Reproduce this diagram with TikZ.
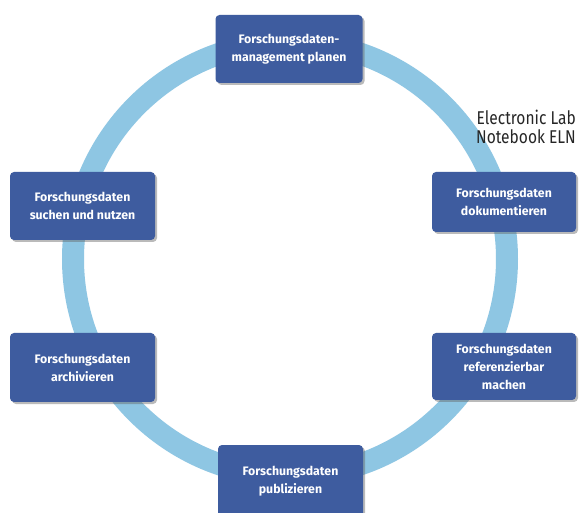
\documentclass[tikz,border=0pt]{standalone}
\usepackage{fontspec}
\setmainfont{Fira Sans}
\newfontfamily\elnfont{Fira Sans}[FakeStretch=0.84]
\usetikzlibrary{shadows}
\definecolor{ringblue}{HTML}{8EC6E3}
\definecolor{boxblue}{HTML}{3E5C9F}
\tikzset{
  x=1pt,y=1pt,
  ring/.style={draw=ringblue,line width=22pt},
  stage/.style={rectangle,rounded corners=4pt,fill=boxblue,text=white,
    font=\fontsize{12.3}{18}\selectfont\bfseries,align=center,inner sep=0pt,
    drop shadow={shadow xshift=2pt,shadow yshift=-2pt,opacity=0.45,fill=black!60}},
  eln/.style={font=\elnfont\fontsize{18.5}{19}\selectfont,align=right,inner sep=0pt,text=black!85}
}
\begin{document}
\begin{tikzpicture}
\useasboundingbox (0,0) rectangle (579,-513);
\fill[white] (0,0) rectangle (579,-513);
\node[draw=none] (c) at (290,-259) {};
\draw[ring] (c.center) circle (217);
\node[stage,minimum width=147,minimum height=68] (plan) at (289,-49) {Forschungsdaten-\\management planen};
\node[stage,minimum width=144,minimum height=60] (doku) at (504,-202) {Forschungsdaten\\dokumentieren};
\node[stage,minimum width=145,minimum height=68] (such) at (82.5,-206) {Forschungsdaten\\suchen und nutzen};
\node[stage,minimum width=144,minimum height=67] (ref) at (504,-366.5) {Forschungsdaten\\referenzierbar\\machen};
\node[stage,minimum width=145,minimum height=69] (arch) at (82.5,-367.5) {Forschungsdaten\\archivieren};
\node[stage,minimum width=145,minimum height=72] (publ) at (290.5,-481) {Forschungsdaten\\publizieren};
\node[eln,anchor=north east] (eln) at (576,-110) {Electronic Lab\\Notebook ELN};
\end{tikzpicture}
\end{document}
